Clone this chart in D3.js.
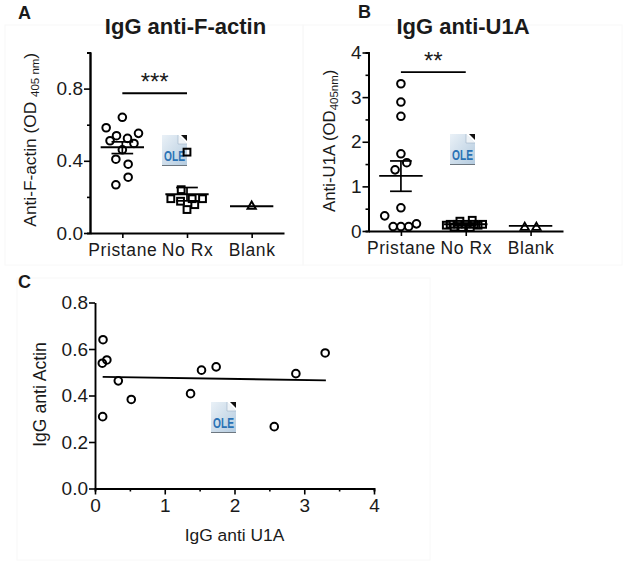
<!DOCTYPE html>
<html>
<head>
<meta charset="utf-8">
<script src="https://cdn.jsdelivr.net/npm/d3@7"></script>
<style>
  html, body { margin: 0; padding: 0; background: #fff; }
  svg { display: block; }
  text { font-family: "Liberation Sans", Arial, sans-serif; fill: #1a1a1a; }
</style>
</head>
<body>
<svg id="chart" width="629" height="567"></svg>
<script>
const groups = ["Pristane", "No Rx", "Blank"];

// panel A values, offsets are sideways shifts inside a group (in group widths)
const actinPristane = [0.641, 0.583, 0.552, 0.539, 0.524, 0.511, 0.496, 0.461, 0.409, 0.381, 0.309, 0.267];
const actinPristaneOffset = [0, -0.25, 0.25, -0.09, 0.08, -0.19, 0.18, 0, -0.1, 0.09, 0.09, -0.1];
const actinNoRx = [0.448, 0.24, 0.19, 0.19, 0.19, 0.176, 0.157, 0.13];
const actinNoRxOffset = [0, -0.09, -0.25, 0.24, 0.08, -0.1, 0.12, 0];
const actinBlank = [0.148];
const actinBlankOffset = [0];
const actinMean = [0.475, 0.215, 0.148];
const actinErrTop = [0.505, 0.252, null];
const actinErrBottom = [0.44, 0.178, null];

// panel B values
const u1aPristane = [3.3, 2.89, 2.57, 1.73, 1.53, 1.37, 0.52, 0.34, 0.1, 0.1, 0.1, 0.16];
const u1aPristaneOffset = [0, 0, 0, 0, 0.09, -0.09, 0, -0.25, -0.12, 0, 0.12, 0.24];
const u1aNoRx = [0.22, 0.24, 0.15, 0.15, 0.15, 0.15, 0.15, 0.09, 0.08, 0.08, 0.13, 0.13];
const u1aNoRxOffset = [-0.09, 0.1, -0.24, -0.12, 0, 0.13, 0.26, -0.18, -0.06, 0.07, 0.19, -0.3];
const u1aBlank = [0.08, 0.08];
const u1aBlankOffset = [-0.09, 0.09];
const u1aMean = [1.235, 0.15, 0.115];
const u1aErrTop = [1.57, 0.18, null];
const u1aErrBottom = [0.89, 0.12, null];

// panel C values
const corrU1a = [0.115, 0.105, 0.17, 0.334, 0.52, 1.37, 1.527, 1.737, 3.3, 2.88, 2.57, 0.11];
const corrActin = [0.64, 0.539, 0.553, 0.463, 0.383, 0.408, 0.509, 0.523, 0.583, 0.494, 0.266, 0.309];
const fitU1a = [0.11, 3.31];
const fitActin = [0.48, 0.465];

const svg = d3.select("#chart");

const defs = svg.append("defs");
const grad = defs.append("linearGradient").attr("id", "oleFill")
  .attr("x1", 0).attr("y1", 0).attr("x2", 1).attr("y2", 1);
grad.append("stop").attr("offset", "0%").attr("stop-color", "#eaf1f7");
grad.append("stop").attr("offset", "100%").attr("stop-color", "#b4cbdf");

// faint frames left around the pasted panels
[[5, 25, 298, 240], [303, 25, 319, 240], [17, 278, 413, 282]].forEach(b => {
  svg.append("rect")
    .attr("x", b[0]).attr("y", b[1]).attr("width", b[2]).attr("height", b[3])
    .attr("fill", "none").attr("stroke", "#f8f8f8").attr("stroke-width", 1);
});

function oleIcon(x, y) {
  const g = svg.append("g").attr("transform", `translate(${x}, ${y})`);
  g.append("path").attr("d", "M0,0H16L25,9V30H0Z").attr("fill", "url(#oleFill)");
  g.append("path").attr("d", "M16,0V9H25").attr("fill", "#eef3f7").attr("stroke", "#9fb4c6").attr("stroke-width", 0.6);
  g.append("path").attr("d", "M19,0H25V6Z").attr("fill", "#111");
  g.append("line").attr("x1", 0).attr("x2", 25).attr("y1", 30.5).attr("y2", 30.5)
    .attr("stroke", "#6d7780").attr("stroke-width", 1);
  g.append("text").attr("x", 12.5).attr("y", 26).attr("text-anchor", "middle")
    .style("font-size", "15px").style("font-weight", "bold").style("fill", "#2a72b5")
    .attr("textLength", 21).attr("lengthAdjust", "spacingAndGlyphs").text("OLE");
}

// pasted OLE placeholders, underneath the marks
[[162, 135], [450, 134], [211, 402]].forEach(p => oleIcon(p[0], p[1]));

function styleAxis(sel, size) {
  sel.selectAll("path").attr("stroke", "#000").attr("stroke-width", 1.9);
  sel.selectAll("line").attr("stroke", "#000").attr("stroke-width", 1.6);
  sel.selectAll("text").style("font-size", size + "px").attr("fill", "#1a1a1a");
}

function symbols(g, kind, data) {
  // data: [x, y] already through the scales
  if (kind === "circle") {
    g.selectAll(null).data(data).join("circle")
      .attr("cx", d => d[0]).attr("cy", d => d[1]).attr("r", 3.8)
      .attr("fill", "none").attr("stroke", "#000").attr("stroke-width", 2);
  } else if (kind === "square") {
    g.selectAll(null).data(data).join("rect")
      .attr("x", d => d[0] - 3.4).attr("y", d => d[1] - 3.4)
      .attr("width", 6.8).attr("height", 6.8)
      .attr("fill", "none").attr("stroke", "#000").attr("stroke-width", 2);
  } else {
    g.selectAll(null).data(data).join("path")
      .attr("d", d3.symbol(d3.symbolTriangle, 30))
      .attr("transform", d => `translate(${d[0]}, ${d[1]})`)
      .attr("fill", "none").attr("stroke", "#000").attr("stroke-width", 1.9);
  }
}

function dotPanel(opt) {
  const w = opt.right - opt.left;
  const h = opt.bottom - opt.top;
  const g = svg.append("g").attr("transform", `translate(${opt.left}, ${opt.top})`);

  const x = d3.scalePoint().domain(groups).range([0, w]).padding(0.5);
  const y = d3.scaleLinear().domain([0, opt.yMax]).range([h, 0]);
  const step = x.step();

  const xAxis = g.append("g").attr("transform", `translate(0, ${h})`)
    .call(d3.axisBottom(x).tickSize(5).tickSizeOuter(0).tickPadding(6));
  styleAxis(xAxis, 17.5);
  xAxis.selectAll("text").style("letter-spacing", "0.6px");

  const yMinor = g.append("g")
    .call(d3.axisLeft(y).tickValues(opt.minorTicks).tickSize(3).tickFormat(""));
  styleAxis(yMinor, 10);
  const yAxis = g.append("g")
    .call(d3.axisLeft(y).tickValues(opt.majorTicks).tickSize(6).tickSizeOuter(0).tickPadding(1).tickFormat(opt.tickFormat));
  styleAxis(yAxis, opt.yFont);

  groups.forEach((name, i) => {
    const cx = x(name);
    const points = opt.values[i].map((v, j) => [cx + opt.offsets[i][j] * step, y(v)]);
    symbols(g, opt.kinds[i], points);

    const half = step * 0.335;
    g.append("line").attr("x1", cx - half).attr("x2", cx + half)
      .attr("y1", y(opt.mean[i])).attr("y2", y(opt.mean[i]))
      .attr("stroke", "#000").attr("stroke-width", 1.9);

    if (opt.errTop[i] !== null) {
      g.append("line").attr("x1", cx).attr("x2", cx)
        .attr("y1", y(opt.errTop[i])).attr("y2", y(opt.errBottom[i]))
        .attr("stroke", "#000").attr("stroke-width", 1.7);
      [opt.errTop[i], opt.errBottom[i]].forEach(v => {
        g.append("line").attr("x1", cx - half / 2).attr("x2", cx + half / 2)
          .attr("y1", y(v)).attr("y2", y(v))
          .attr("stroke", "#000").attr("stroke-width", 1.7);
      });
    }
  });

  // significance bar
  g.append("line").attr("x1", x(groups[0])).attr("x2", x(groups[1]))
    .attr("y1", y(opt.sigLevel)).attr("y2", y(opt.sigLevel))
    .attr("stroke", "#000").attr("stroke-width", 1.9);
  g.append("text").attr("x", (x(groups[0]) + x(groups[1])) / 2)
    .attr("y", y(opt.sigLevel) - 3).attr("text-anchor", "middle")
    .style("font-size", "24px").text(opt.sig);

  // y label
  const label = svg.append("text")
    .attr("transform", `translate(${opt.labelX}, ${(opt.top + opt.bottom) / 2 + opt.labelShift}) rotate(-90)`)
    .attr("text-anchor", "middle").style("font-size", opt.labelFont + "px");
  label.append("tspan").text(opt.label);
  label.append("tspan").attr("dy", 3).style("font-size", "11.5px").text(opt.labelSub);
  label.append("tspan").attr("dy", -3).text(")");

  svg.append("text").attr("x", opt.titleX).attr("y", 34).attr("text-anchor", "middle")
    .style("font-size", "22px").style("font-weight", "bold").text(opt.title);
}

dotPanel({
  left: 90, right: 284, top: 52.5, bottom: 233, yMax: 1,
  majorTicks: [0, 0.4, 0.8], minorTicks: [0.2, 0.6, 1], tickFormat: d3.format(".1f"), yFont: 19,
  values: [actinPristane, actinNoRx, actinBlank],
  offsets: [actinPristaneOffset, actinNoRxOffset, actinBlankOffset],
  kinds: ["circle", "square", "triangle"],
  mean: actinMean, errTop: actinErrTop, errBottom: actinErrBottom,
  sigLevel: 0.774, sig: "***",
  label: "Anti-F-actin (OD ", labelSub: "405 nm", labelX: 36, labelShift: -3, labelFont: 17.3,
  title: "IgG anti-F-actin", titleX: 185.5
});

dotPanel({
  left: 368.5, right: 563, top: 52.5, bottom: 231, yMax: 4,
  majorTicks: [0, 1, 2, 3, 4], minorTicks: [0.5, 1.5, 2.5, 3.5], tickFormat: d3.format("d"), yFont: 19,
  values: [u1aPristane, u1aNoRx, u1aBlank],
  offsets: [u1aPristaneOffset, u1aNoRxOffset, u1aBlankOffset],
  kinds: ["circle", "square", "triangle"],
  mean: u1aMean, errTop: u1aErrTop, errBottom: u1aErrBottom,
  sigLevel: 3.56, sig: "**",
  label: "Anti-U1A (OD", labelSub: "405nm", labelX: 335, labelShift: -1, labelFont: 16.8,
  title: "IgG anti-U1A", titleX: 463
});

// panel C
(() => {
  const margin = { left: 95, right: 374, top: 302.5, bottom: 488.5 };
  const g = svg.append("g").attr("transform", `translate(${margin.left}, ${margin.top})`);
  const w = margin.right - margin.left;
  const h = margin.bottom - margin.top;

  const x = d3.scaleLinear().domain([0, 4]).range([0, w]);
  const y = d3.scaleLinear().domain([0, 0.8]).range([h, 0]);

  const xMinor = g.append("g").attr("transform", `translate(0, ${h})`)
    .call(d3.axisBottom(x).tickValues([0.5, 1.5, 2.5, 3.5]).tickSize(3).tickFormat(""));
  styleAxis(xMinor, 10);
  const xAxis = g.append("g").attr("transform", `translate(0, ${h})`)
    .call(d3.axisBottom(x).tickValues([0, 1, 2, 3, 4]).tickSize(6).tickSizeOuter(0).tickPadding(4).tickFormat(d3.format("d")));
  styleAxis(xAxis, 19);

  const yAxis = g.append("g")
    .call(d3.axisLeft(y).tickValues([0, 0.2, 0.4, 0.6, 0.8]).tickSize(6).tickSizeOuter(0).tickPadding(1).tickFormat(d3.format(".1f")));
  styleAxis(yAxis, 19);

  const line = d3.line().x(d => x(d[0])).y(d => y(d[1]));
  g.append("path").datum(d3.zip(fitU1a, fitActin))
    .attr("fill", "none").attr("stroke", "#000").attr("stroke-width", 1.9)
    .attr("d", line);

  symbols(g, "circle", d3.zip(corrU1a, corrActin).map(d => [x(d[0]), y(d[1])]));

  svg.append("text").attr("x", 234.5).attr("y", 541).attr("text-anchor", "middle")
    .style("font-size", "17.4px").text("IgG anti U1A");
  svg.append("text")
    .attr("transform", `translate(46, ${(margin.top + margin.bottom) / 2 - 1}) rotate(-90)`)
    .attr("text-anchor", "middle").style("font-size", "17.6px").text("IgG anti Actin");
})();

// panel letters
[["A", 18, 19], ["B", 358, 18], ["C", 18, 288]].forEach(d => {
  svg.append("text").attr("x", d[1]).attr("y", d[2])
    .style("font-size", "18px").style("font-weight", "bold").text(d[0]);
});
</script>
</body>
</html>
